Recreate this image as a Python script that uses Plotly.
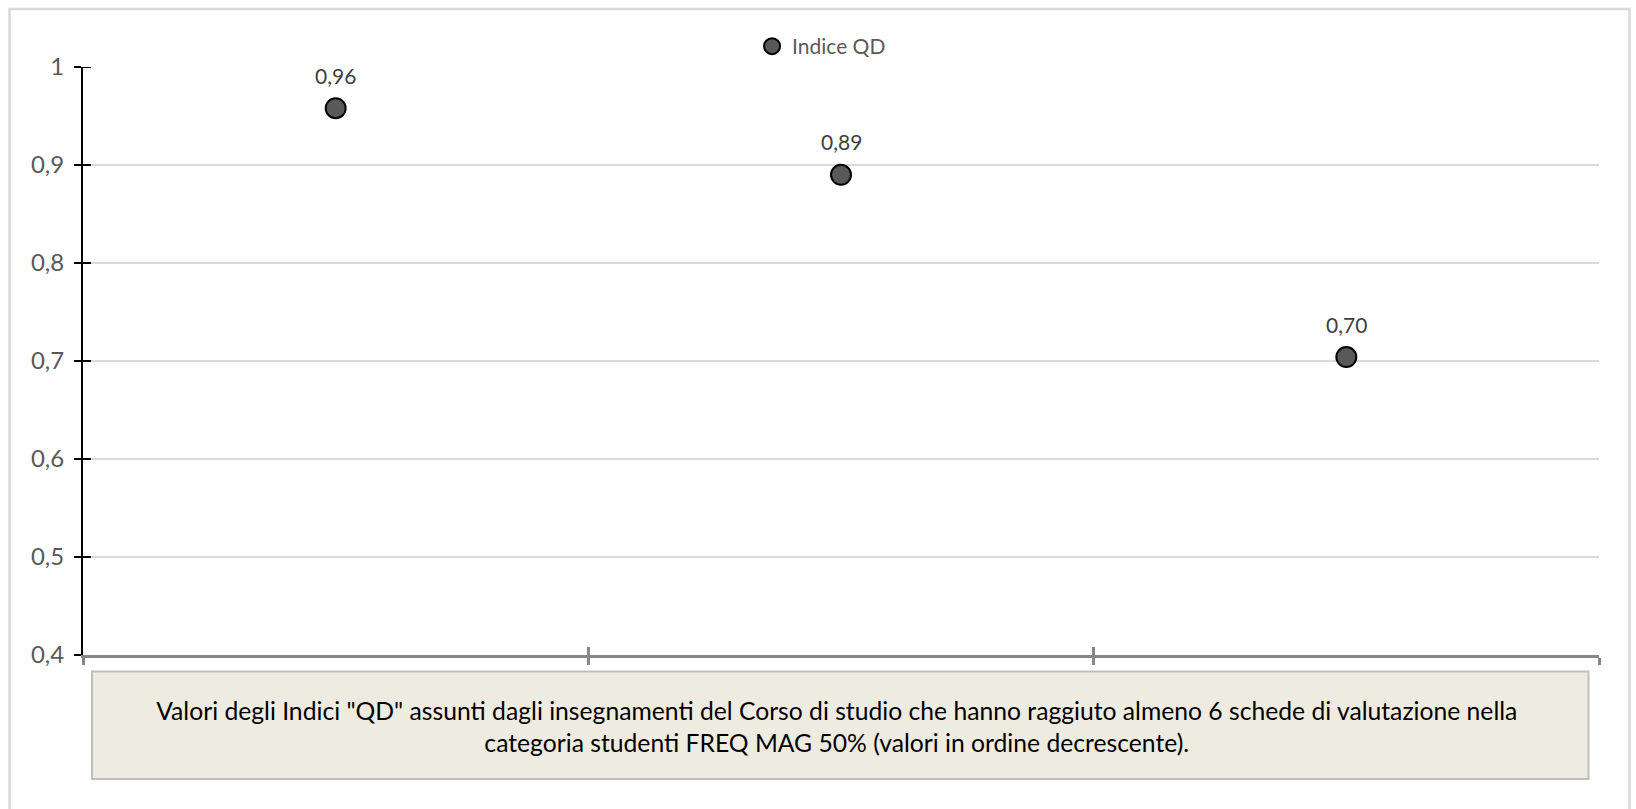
import plotly.graph_objects as go

categories = [1, 2, 3]
values = [0.958, 0.890, 0.704]
labels = ["0,96", "0,89", "0,70"]
series_name = "Indice QD"
caption = ('Valori degli Indici "QD" assunti dagli insegnamenti del Corso di studio che hanno raggiuto almeno 6 schede di valutazione nella<br>'
           'categoria studenti FREQ MAG 50% (valori in ordine decrescente).')

W, H = 1636, 809
L, R, T, B = 82.5, 36.5, 67, 154
pw, ph = W - L - R, H - T - B

def px(x):
    return (x - L) / pw

def py(y):
    return (H - B - y) / ph

FONT = "Lato"

fig = go.Figure()
fig.add_trace(go.Scatter(
    x=categories, y=values, mode="markers", name=series_name,
    marker=dict(size=20, color="#595959", line=dict(color="#000000", width=2)),
    showlegend=True, cliponaxis=False,
))
# invisible trace for inside (crossing) x ticks
fig.add_trace(go.Scatter(x=[categories[0]], y=[values[0]], xaxis="x2", mode="markers",
                         marker=dict(opacity=0), showlegend=False, hoverinfo="skip"))

for c, v, t in zip(categories, values, labels):
    fig.add_annotation(x=c, y=v, text=t, showarrow=False, yshift=33,
                       xanchor="center", yanchor="middle",
                       font=dict(family=FONT, size=21, color="#404040"))

fig.update_layout(
    width=W, height=H,
    margin=dict(l=L, r=R, t=T, b=B),
    paper_bgcolor="white", plot_bgcolor="white",
    separators=",.",
    font=dict(family=FONT, size=20, color="#595959"),
    showlegend=True,
    legend=dict(orientation="h", x=px(752), y=py(46.5), xanchor="left", yanchor="middle",
                font=dict(family=FONT, size=21, color="#595959"),
                itemwidth=30, bgcolor="rgba(0,0,0,0)"),
    xaxis=dict(range=[0.5, 3.5], tickvals=[0.5, 1.5, 2.5, 3.5], showticklabels=False,
               ticks="outside", ticklen=7, tickwidth=3, tickcolor="#878787",
               showline=True, linecolor="#878787", linewidth=3, showgrid=False, zeroline=False),
    xaxis2=dict(range=[0.5, 3.5], overlaying="x", tickvals=[0.5, 1.5, 2.5, 3.5], showticklabels=False,
                ticks="inside", ticklen=8, tickwidth=3, tickcolor="#878787", side="bottom",
                showline=False, showgrid=False, zeroline=False),
    yaxis=dict(range=[0.4, 1.0], dtick=0.1, tick0=0.4, showline=True, linecolor="#000000", linewidth=2,
               ticks="outside", ticklen=7, tickwidth=2, tickcolor="#000000",
               showgrid=True, gridcolor="#D9D9D9", gridwidth=1.5, zeroline=False,
               tickfont=dict(family=FONT, size=24, color="#595959"), ticklabelstandoff=5),
)

# caption box
fig.add_shape(type="rect", xref="paper", yref="paper",
              x0=px(91.5), x1=px(1589), y0=py(779), y1=py(671.5),
              fillcolor="#EEEBE0", line=dict(color="#BFBFBF", width=2), layer="above")
fig.add_annotation(
    text=caption, xref="paper", yref="paper",
    x=px(91.5 - 5), y=py(671.5), xanchor="left", yanchor="top",
    width=1589 - 91.5, height=779 - 671.5, showarrow=False,
    align="center", valign="middle", borderpad=0,
    font=dict(family=FONT, size=24.7, color="#000000"),
)

# outer chart border
fig.add_shape(type="rect", xref="paper", yref="paper",
              x0=px(9), x1=px(1630), y0=py(815), y1=py(9),
              line=dict(color="#D9D9D9", width=2.5), layer="below")
# inside part of the crossing y tick marks
for v in [0.5, 0.6, 0.7, 0.8, 0.9, 1.0]:
    fig.add_shape(type="line", xref="paper", yref="y", x0=0, x1=px(L + 8), y0=v, y1=v,
                  line=dict(color="#000000", width=2))

fig.write_html("out.html", config={"displayModeBar": False},
               post_script="document.body.style.margin='0';")
